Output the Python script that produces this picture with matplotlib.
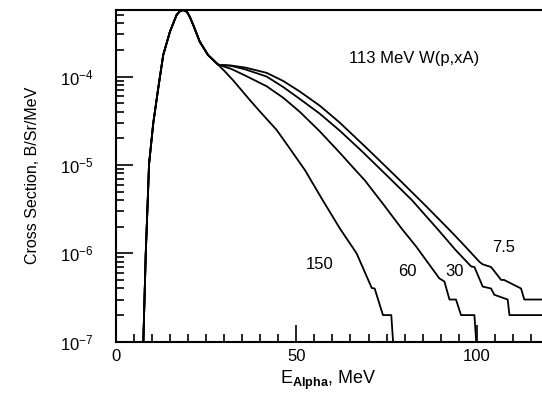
import matplotlib.pyplot as plt
from matplotlib.ticker import LogLocator, MultipleLocator, NullFormatter

plt.rcParams['font.family'] = ['Liberation Sans', 'DejaVu Sans']
plt.rcParams['mathtext.fontset'] = 'custom'
plt.rcParams['mathtext.rm'] = 'Liberation Sans'
plt.rcParams['mathtext.bf'] = 'Liberation Sans:bold'

# shared low-energy part (evaporation peak), all four angles
e_common = [7.7, 8.37, 8.92, 9.28, 10.44, 11.82, 13.2, 15.06, 16.9, 17.8, 18.74, 19.8, 20.6,
            21.5, 23.3, 25.6, 28.4]
y_common = [1e-7, 1e-6, 3.98e-6, 1.02e-5, 2.95e-5, 7.35e-5, 1.75e-4, 3.21e-4, 4.97e-4, 5.47e-4,
            5.65e-4, 5.37e-4, 4.68e-4, 3.83e-4, 2.48e-4, 1.75e-4, 1.36e-4]

# high-energy tails, one per angle (deg)
e_150 = [30, 32.5, 37.2, 40, 44.6, 48, 52.4, 57, 62, 66.7, 70.9, 71.7, 74, 76.3, 76.8]
y_150 = [1.17e-4, 9.1e-5, 5.4e-5, 4.0e-5, 2.48e-5, 1.58e-5, 8.75e-6, 4.2e-6, 1.93e-6, 1.0e-6,
         4.05e-7, 4.0e-7, 2e-7, 2e-7, 1e-7]

e_60 = [32, 36, 41.8, 46.4, 51, 56.5, 62, 66.2, 68.9, 74, 79.1, 83.2, 89.6, 91, 92.4, 94.2,
        95.6, 99.3, 99.8]
y_60 = [1.22e-4, 1.02e-4, 7.76e-5, 5.75e-5, 3.98e-5, 2.4e-5, 1.38e-5, 8.9e-6, 6.75e-6, 3.63e-6,
        1.92e-6, 1.19e-6, 5.2e-7, 4.8e-7, 3e-7, 3e-7, 2e-7, 2e-7, 1e-7]

e_30 = [32, 36, 41.8, 46.4, 51.4, 56.5, 62, 68, 75.8, 82, 89.4, 94, 98.4, 99.3, 101.6, 103.9,
        104.8, 108.5, 109, 118]
y_30 = [1.32e-4, 1.2e-4, 1e-4, 7.6e-5, 5.42e-5, 3.8e-5, 2.45e-5, 1.45e-5, 7.1e-6, 4.0e-6,
        1.82e-6, 1.1e-6, 7.1e-7, 7e-7, 4.2e-7, 4e-7, 3.4e-7, 3e-7, 2e-7, 2e-7]

e_75 = [32, 36, 41.8, 46.4, 51, 56.5, 62, 70, 78.6, 86, 92.4, 96, 100.7, 101.6, 103.9, 106.7,
        107.5, 112.2, 113.1, 118]
y_75 = [1.33e-4, 1.26e-4, 1.1e-4, 8.9e-5, 6.76e-5, 4.68e-5, 3.02e-5, 1.48e-5, 6.75e-6, 3.39e-6,
        1.84e-6, 1.29e-6, 8e-7, 7.5e-7, 7e-7, 5e-7, 5e-7, 4e-7, 3e-7, 3e-7]

labels = ['150', '60', '30', '7.5']
label_x = [56.6, 80.7, 93.7, 107.5]
label_y = [7.4e-7, 6.3e-7, 6.3e-7, 1.15e-6]

fig = plt.figure(figsize=(5.42, 3.96), dpi=100)
ax = fig.add_axes([0.2131, 0.1371, 0.7869, 0.8376])

for e_t, y_t in [(e_150, y_150), (e_60, y_60), (e_30, y_30), (e_75, y_75)]:
    ax.plot(e_common + e_t, y_common + y_t, color='black', lw=1.3)

for lab, lx, ly in zip(labels, label_x, label_y):
    ax.text(lx, ly, lab, fontsize=12, ha='center', va='center')

ax.text(0.70, 0.855, '113 MeV W(p,xA)', transform=ax.transAxes, fontsize=12,
        ha='center', va='center')

ax.set_yscale('log')
ax.set_xlim(0, 118)
ax.set_ylim(1e-7, 5.65e-4)

ax.xaxis.set_major_locator(MultipleLocator(50))
ax.xaxis.set_minor_locator(MultipleLocator(5))
ax.yaxis.set_major_locator(LogLocator(base=10))
ax.yaxis.set_minor_locator(LogLocator(base=10, subs=range(2, 10)))
ax.yaxis.set_minor_formatter(NullFormatter())

ax.spines['right'].set_visible(False)
for s in ['left', 'bottom', 'top']:
    ax.spines[s].set_linewidth(1.5)

ax.tick_params(axis='both', which='major', direction='in', length=12, width=1.2, labelsize=12)
ax.tick_params(axis='both', which='minor', direction='in', length=6, width=1.2)
ax.tick_params(axis='y', which='major', pad=16)
ax.tick_params(axis='x', which='major', pad=5)

ax.set_ylabel('Cross Section, B/Sr/MeV', fontsize=11.5, labelpad=14)
ax.set_xlabel(r'E$_{\mathbf{Alpha}}$, MeV', fontsize=13, labelpad=4)

fig.savefig('out.png', dpi=100)
